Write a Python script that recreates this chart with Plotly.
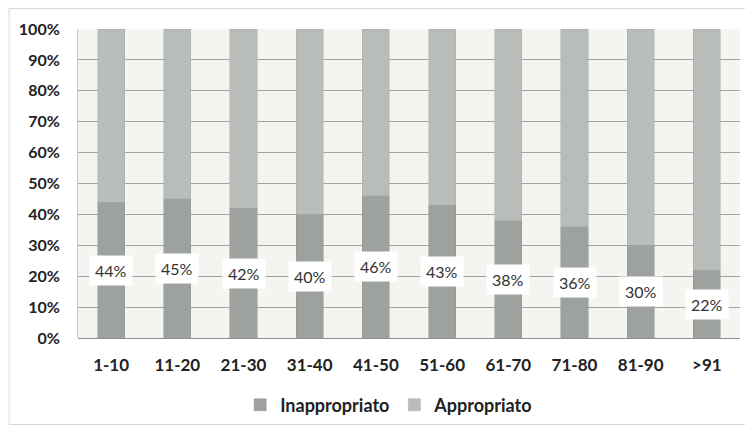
import plotly.graph_objects as go

categories = ["1-10", "11-20", "21-30", "31-40", "41-50", "51-60", "61-70", "71-80", "81-90", ">91"]
inappropriato = [44, 45, 42, 40, 46, 43, 38, 36, 30, 22]
appropriato = [100 - v for v in inappropriato]
y_ticks = [0, 10, 20, 30, 40, 50, 60, 70, 80, 90, 100]
y_tick_labels = [f"{t}%" for t in y_ticks]

font_family = "Lato, 'Open Sans', sans-serif"

fig = go.Figure()
fig.add_trace(go.Bar(
    x=categories, y=inappropriato, name="Inappropriato",
    marker=dict(color="#9ea29e", line=dict(color="#8f938f", width=0.5)),
))
fig.add_trace(go.Bar(
    x=categories, y=appropriato, name="Appropriato",
    marker=dict(color="#b9bdb9", line=dict(color="#a9ada9", width=0.5)),
))

for c, v in zip(categories, inappropriato):
    fig.add_annotation(
        x=c, y=v / 2, text=f"{v}%", showarrow=False,
        bgcolor="#ffffff", borderpad=5,
        font=dict(family=font_family, size=16, color="#333333"),
    )

fig.update_layout(
    width=753, height=430,
    barmode="stack", bargap=0.59,
    margin=dict(l=70, r=21, t=21, b=100),
    paper_bgcolor="#ffffff", plot_bgcolor="#f4f5f1",
    font=dict(family=font_family, color="#222222"),
    showlegend=True,
    legend=dict(
        orientation="h", x=0.47, xanchor="center", y=-0.217, yanchor="middle",
        font=dict(size=18, color="#222222", family=font_family, weight="bold"),
        traceorder="normal", itemwidth=30,
    ),
    xaxis=dict(
        showgrid=False, showline=False,
        tickfont=dict(size=17, color="#222222", family=font_family, weight="bold"),
        ticklabelstandoff=15,
    ),
    yaxis=dict(
        range=[0, 100], tickvals=y_ticks, ticktext=y_tick_labels,
        showgrid=True, gridcolor="#a3a3a3", gridwidth=1,
        zeroline=True, zerolinecolor="#909090", zerolinewidth=1,
        showline=True, linecolor="#c8c8c8", linewidth=1,
        tickfont=dict(size=16, color="#222222", family=font_family, weight="bold"),
        ticklabelstandoff=14,
    ),
)

fig.add_shape(type="rect", xref="paper", yref="paper",
              x0=-0.104, x1=1.015, y0=-0.28, y1=1.066,
              line=dict(color="#d8d8d8", width=1), layer="below")

fig.write_html("out.html")
